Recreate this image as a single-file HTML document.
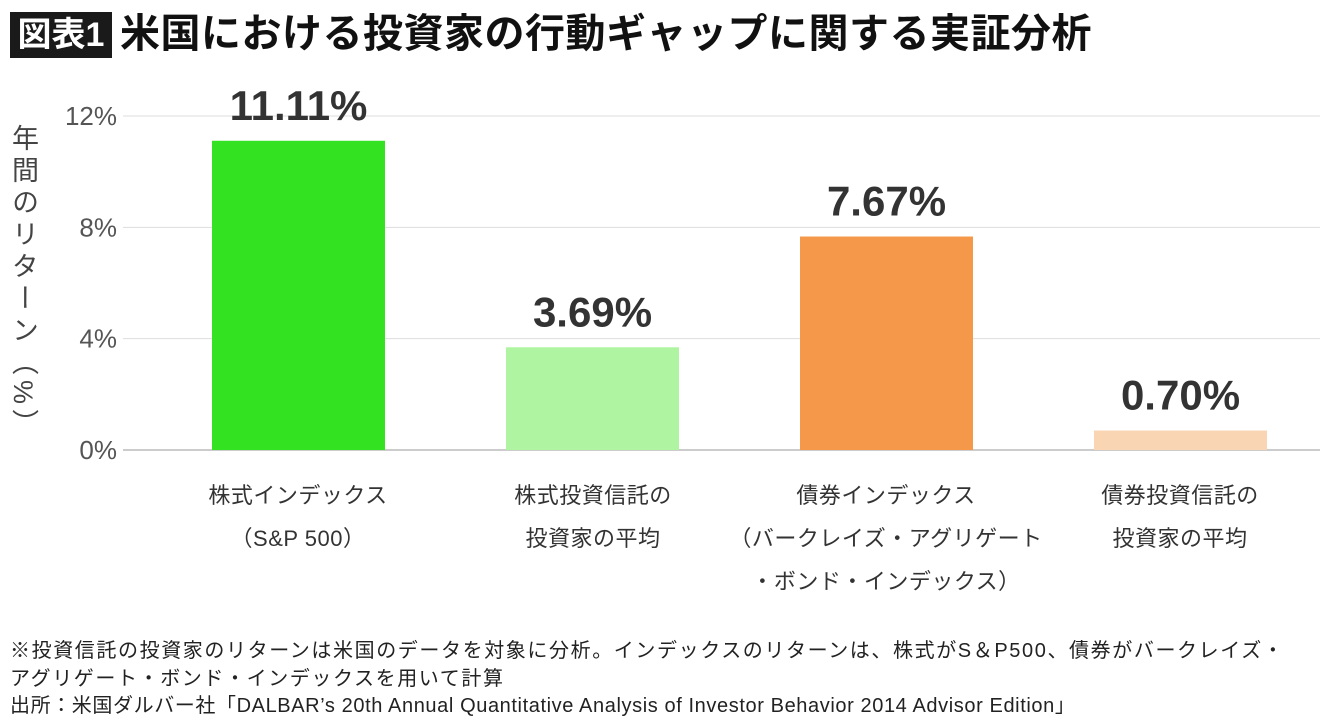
<!DOCTYPE html>
<html><head><meta charset="utf-8">
<style>
body{margin:0;width:1340px;height:720px;background:#fff;font-family:"Liberation Sans","Noto Sans CJK JP",sans-serif;color:#333;overflow:hidden;position:relative}
#title-box{position:absolute;left:10px;top:12px;width:102px;height:46px;background:#1a1a1a;color:#fff;font-size:34px;font-weight:bold;line-height:46px;text-align:center}
#title{position:absolute;left:120px;top:6px;font-size:40px;font-weight:bold;color:#111;line-height:56px;white-space:nowrap;letter-spacing:0.5px}
#ytitle{position:absolute;left:4px;top:124px;writing-mode:vertical-rl;font-size:27px;color:#444;letter-spacing:5px}
.cat{position:absolute;width:280px;text-align:center;font-size:22px;line-height:43px;color:#333;white-space:nowrap;letter-spacing:0.5px}
.note{position:absolute;left:10px;font-size:20px;color:#222;white-space:nowrap;letter-spacing:1.6px}
</style></head><body>
<div id="title-box">図表1</div>
<div id="title">米国における投資家の行動ギャップに関する実証分析</div>
<div id="ytitle">年間のリターン（%）</div>
<svg id="chart" width="1340" height="720" style="position:absolute;left:0;top:0"></svg>
<div class="cat" style="left:158px;top:474px">株式インデックス<br>（S&amp;P 500）</div>
<div class="cat" style="left:453px;top:474px">株式投資信託の<br>投資家の平均</div>
<div class="cat" style="left:716px;top:474px;width:340px">債券インデックス<br>（バークレイズ・アグリゲート<br>・ボンド・インデックス）</div>
<div class="cat" style="left:1040px;top:474px">債券投資信託の<br>投資家の平均</div>
<div class="note" style="top:634px">※投資信託の投資家のリターンは米国のデータを対象に分析。インデックスのリターンは、株式がS＆P500、債券がバークレイズ・</div>
<div class="note" style="top:662px">アグリゲート・ボンド・インデックスを用いて計算</div>
<div class="note" style="top:689px;letter-spacing:0.6px">出所：米国ダルバー社「DALBAR’s 20th Annual Quantitative Analysis of Investor Behavior 2014 Advisor Edition」</div>
<script>
const categories=["株式インデックス","株式投資信託の投資家の平均","債券インデックス","債券投資信託の投資家の平均"];
const values=[11.11,3.69,7.67,0.70];
const valueLabels=["11.11%","3.69%","7.67%","0.70%"];
const colors=["#33e221","#aff5a1","#f5984a","#fad5b3"];
const ticks=[0,4,8,12];
const tickLabels=["0%","4%","8%","12%"];
const NS="http://www.w3.org/2000/svg";
const svg=document.getElementById('chart');
const y=v=>450-v*(450-116)/12;
const x=i=>298.5+i*294;
const bw=173;
function mk(t,a){const e=document.createElementNS(NS,t);for(const k in a)e.setAttribute(k,a[k]);svg.appendChild(e);return e;}
ticks.forEach((t,i)=>{
  const l=mk('line',{x1:123,x2:1320,y1:y(t),y2:y(t),stroke:i===0?'#bbb':'#ddd','stroke-width':i===0?1.5:1});
  
  
  const tx=mk('text',{x:117,y:y(t)+9,'text-anchor':'end','font-size':26,fill:'#555','font-family':'Liberation Sans, sans-serif'});
  tx.textContent=tickLabels[i];
  
  
});
values.forEach((v,i)=>{
  const r=mk('rect',{x:x(i)-bw/2,y:y(v),width:bw,height:450-y(v),fill:colors[i]});
  
  
  const t=mk('text',{x:x(i),y:y(v)-21,'text-anchor':'middle','font-size':42,'font-weight':'bold',fill:'#333','font-family':'Liberation Sans, sans-serif'});
  t.textContent=valueLabels[i];
  
  
});
</script>
</body></html>
